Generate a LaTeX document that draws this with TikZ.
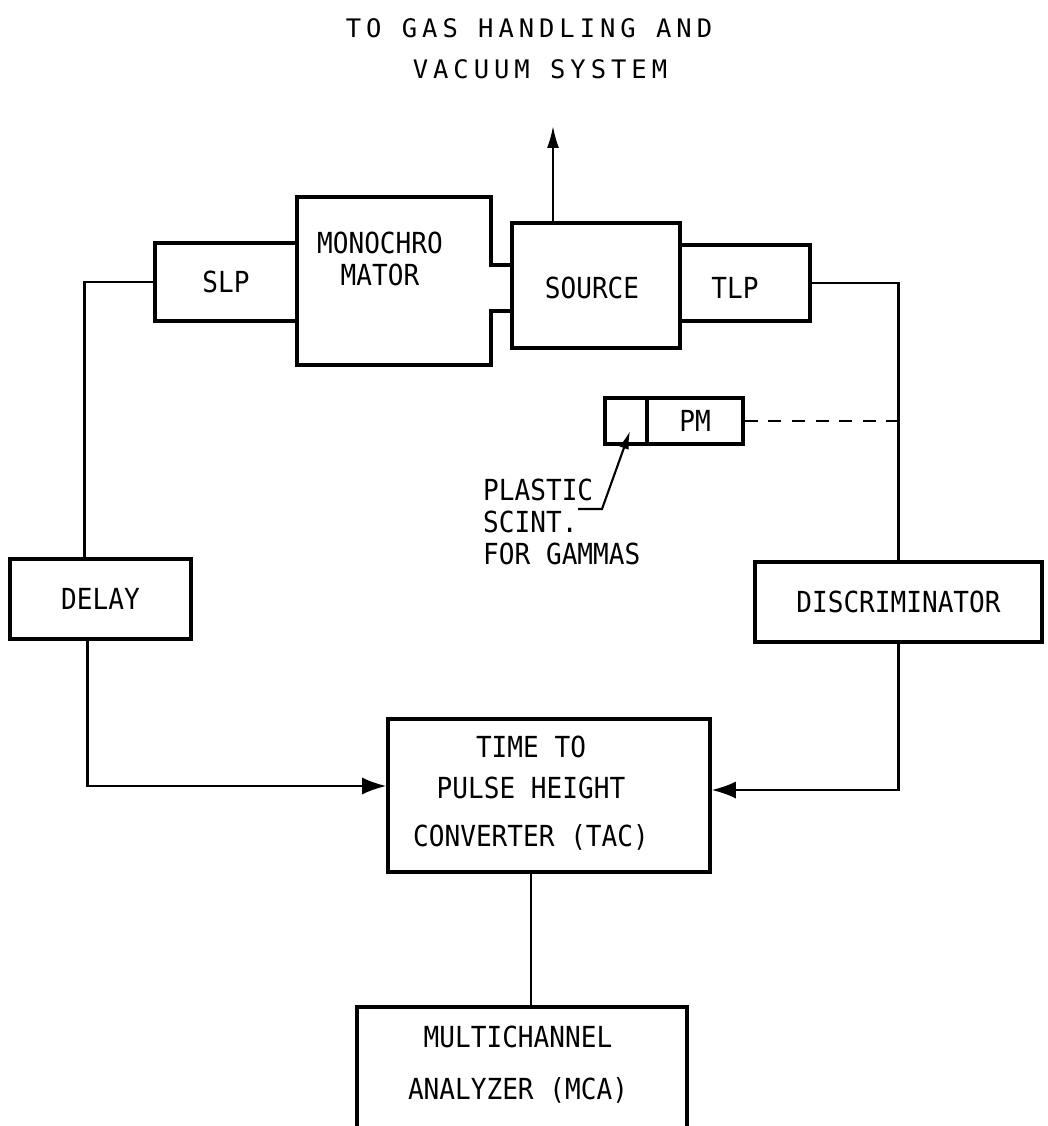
\documentclass[tikz,border=0pt]{standalone}
\usepackage{fontspec}
\newfontfamily\plotfont[FakeStretch=0.9]{DejaVu Sans Mono}
\newfontfamily\titlefont{DejaVu Sans Mono}
\usetikzlibrary{arrows.meta}
\begin{document}
\begin{tikzpicture}[x=1pt,y=-1pt,
  lbl/.style={inner sep=0pt, font=\plotfont\fontsize{29}{32}\selectfont},
  ttl/.style={inner sep=0pt, font=\titlefont\fontsize{25.5}{30}\selectfont\addfontfeature{LetterSpace=19.5}},
  box/.style={draw, line width=3.6pt, inner sep=0pt, lbl},
  outline/.style={line width=3.6pt, line join=miter},
  conn/.style={line width=2.1pt},
  bigtip/.style={-{Latex[length=24pt,width=17pt]}},
  uptip/.style={-{Latex[length=22pt,width=12pt]}},
  smalltip/.style={-{Latex[length=18pt,width=10pt]}}]
\useasboundingbox (0,0) rectangle (1047,1126);
\fill[white] (0,0) rectangle (1047,1126);
\clip (0,0) rectangle (1047,1126);

% title
\node[ttl] (t1) at (529,28) {TO GAS HANDLING AND};
\node[ttl] (t2) at (540,69) {VACUUM SYSTEM};

% top chain
\node[box, minimum width=142pt, minimum height=78pt] (slp) at (226,282) {SLP};
\node[inner sep=0pt, minimum width=194pt, minimum height=168pt] (mono) at (394,281) {};
\node[lbl, align=center] (monotext) at (380,259) {MONOCHRO\\MATOR};
\node[box, minimum width=168pt, minimum height=125pt] (src) at (596,285.5) {};
\node[lbl] (srctext) at (592,288) {SOURCE};
\node[box, minimum width=130pt, minimum height=76pt] (tlp) at (745,283) {};
\node[lbl] (tlptext) at (735,288) {TLP};

\coordinate (stubT) at (512,265);
\coordinate (stubB) at (512,311);
\draw[outline] (src.west |- stubT) -- (mono.east |- stubT) -- (mono.north east)
  -- (mono.north west) -- (mono.south west) -- (mono.south east)
  -- (mono.east |- stubB) -- (src.west |- stubB);

% arrow to gas handling
\coordinate (gas) at (553,126);
\draw[conn, uptip] (src.north -| gas) -- (gas);

% PM and scintillator
\node[box, minimum width=42pt, minimum height=46pt] (scint) at (626,421) {};
\node[box, minimum width=96pt, minimum height=46pt] (pm) at (695,421) {PM};
\node[lbl, anchor=north west, align=left] (plastic) at (483,479) {PLASTIC\\SCINT.\\FOR GAMMAS};
\coordinate (pa) at (578,509);
\coordinate (pb) at (602,509);
\coordinate (ptip) at (630,431);
\draw[conn, smalltip] (pa) -- (pb) -- (ptip);

% side boxes
\node[box, minimum width=181pt, minimum height=80pt] (delay) at (100.5,599) {DELAY};
\node[box, minimum width=287pt, minimum height=80pt] (disc) at (898.5,602) {DISCRIMINATOR};

% TAC
\node[box, minimum width=322pt, minimum height=153pt] (tac) at (549,795.5) {};
\node[lbl] (tac1) at (531,747) {TIME TO};
\node[lbl] (tac2) at (531,788) {PULSE HEIGHT};
\node[lbl] (tac3) at (531,837) {CONVERTER (TAC)};

% MCA
\node[box, minimum width=330pt, minimum height=140pt] (mca) at (522,1077) {};
\node[lbl] (mca1) at (518,1037) {MULTICHANNEL};
\node[lbl] (mca2) at (518,1090) {ANALYZER (MCA)};

% connectors
\draw[conn] (slp.west) -| ([xshift=-16pt]delay.north);
\draw[conn, bigtip] ([xshift=-13pt]delay.south) |- ([yshift=9.5pt]tac.west);
\draw[conn] (tlp.east) -| (disc.north);
\draw[conn, bigtip] (disc.south) |- ([yshift=5.5pt]tac.east);
\draw[conn, dash pattern=on 13pt off 10.6pt] (pm.east) -- (pm.east -| disc.north);
\draw[conn] ([xshift=-18pt]tac.south) -- ([xshift=-18pt]tac.south |- mca.north);
\end{tikzpicture}
\end{document}
